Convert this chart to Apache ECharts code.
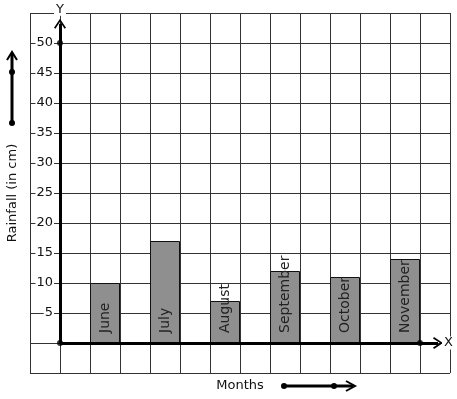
<!DOCTYPE html>
<html>
<head>
<meta charset="utf-8">
<script src="https://cdn.jsdelivr.net/npm/echarts@6/dist/echarts.min.js"></script>
<style>
  html, body { margin: 0; padding: 0; background: #fff; }
  #chart { width: 457px; height: 399px; }
</style>
</head>
<body>
<div id="chart"></div>
<script>
// months and rainfall (cm)
var months = ['June', 'July', 'August', 'September', 'October', 'November'];
var rainfall = [10, 17, 7, 12, 11, 14];
var yTicks = [5, 10, 15, 20, 25, 30, 35, 40, 45, 50];

var FONT = 'DejaVu Sans';
var chevron = 'path://M0,0 L6,9 L4.6,10 L0,3 L-4.6,10 L-6,9 Z';

window.onload = function() {
    var chart = echarts.init(document.getElementById('chart'));

    // each month sits in every second column of the grid, starting at column 2
    var barData = rainfall.map(function(v, i) {
        return { name: months[i], value: [2 * i + 1.5, v] };
    });

    chart.setOption({
        animation: false,
        grid: {
            left: 30, right: 7, top: 13, bottom: 26,
            outerBoundsMode: 'none'
        },
        xAxis: {
            type: 'value',
            min: -1, max: 13, interval: 1,
            name: 'Months',
            nameLocation: 'middle',
            nameGap: 6,
            nameTextStyle: { fontFamily: FONT, fontSize: 13, color: '#111' },
            axisLine: { show: false },
            axisTick: { show: false },
            axisLabel: { show: false },
            splitLine: { show: true, lineStyle: { color: '#333', width: 1 } }
        },
        yAxis: {
            type: 'value',
            min: -5, max: 55, interval: 5,
            name: 'Rainfall (in cm)',
            nameLocation: 'middle',
            nameRotate: 90,
            nameGap: 11,
            nameTextStyle: { fontFamily: FONT, fontSize: 13, color: '#111' },
            axisLine: { show: false },
            axisTick: { show: false },
            axisLabel: {
                margin: -24,
                fontFamily: FONT, fontSize: 13, color: '#111',
                backgroundColor: '#fff',
                padding: [0, 1, 0, 1],
                formatter: function(v) {
                    return yTicks.indexOf(v) >= 0 ? String(v) : '';
                }
            },
            splitLine: { show: true, lineStyle: { color: '#333', width: 1 } }
        },
        series: [{
            type: 'bar',
            barWidth: 30,
            data: barData,
            itemStyle: { color: '#8f8f8f', borderColor: '#111', borderWidth: 1 },
            label: {
                show: true,
                position: 'insideBottom',
                distance: 10,
                rotate: 90,
                align: 'left',
                verticalAlign: 'middle',
                formatter: '{b}',
                fontFamily: FONT, fontSize: 14, color: '#222'
            },
            z: 2
        }, {
            // the two main axes, drawn from the origin with open arrow heads
            type: 'line',
            data: [],
            silent: true,
            markLine: {
                silent: true,
                symbol: ['none', chevron],
                symbolSize: [12, 10],
                lineStyle: { color: '#000', width: 3, type: 'solid' },
                label: {
                    show: true,
                    position: 'end',
                    fontFamily: FONT, fontSize: 13, color: '#111',
                    backgroundColor: '#fff',
                    padding: [0, 2, 0, 2]
                },
                data: [
                    [{ coord: [0, 0], label: { formatter: 'Y', distance: 8 } }, { coord: [0, 53.2] }],
                    [{ coord: [0, 0], label: { formatter: 'X', distance: 4 } }, { coord: [12.6, 0] }]
                ]
            },
            z: 3
        }, {
            type: 'scatter',
            silent: true,
            symbolSize: 6,
            itemStyle: { color: '#000' },
            data: [[0, 0], [0, 50], [12, 0]],
            z: 4
        }],
        graphic: [
            // decorative direction arrows next to the axis names
            { type: 'line', shape: { x1: 12, y1: 123, x2: 12, y2: 54 }, style: { stroke: '#000', lineWidth: 3 } },
            { type: 'polyline', shape: { points: [[7, 60], [12, 52], [17, 60]] }, style: { stroke: '#000', lineWidth: 2, fill: null } },
            { type: 'circle', shape: { cx: 12, cy: 72, r: 3 }, style: { fill: '#000' } },
            { type: 'circle', shape: { cx: 12, cy: 123, r: 3 }, style: { fill: '#000' } },
            { type: 'line', shape: { x1: 284, y1: 386, x2: 353, y2: 386 }, style: { stroke: '#000', lineWidth: 3 } },
            { type: 'polyline', shape: { points: [[346, 381], [355, 386], [346, 391]] }, style: { stroke: '#000', lineWidth: 2, fill: null } },
            { type: 'circle', shape: { cx: 284, cy: 386, r: 3 }, style: { fill: '#000' } },
            { type: 'circle', shape: { cx: 334, cy: 386, r: 3 }, style: { fill: '#000' } }
        ]
    });
};
</script>
</body>
</html>
